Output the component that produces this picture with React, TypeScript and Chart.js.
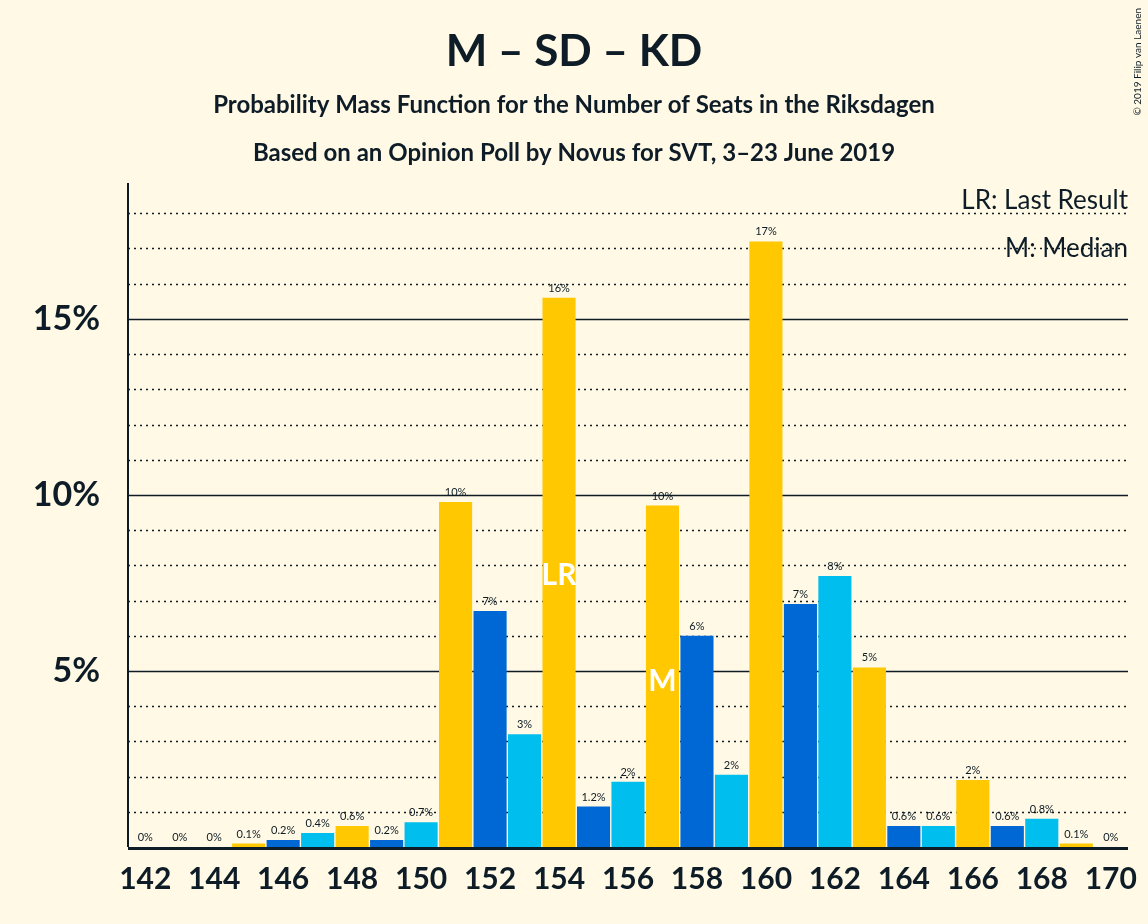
import React, { useEffect, useRef } from 'react';
import { Chart, registerables } from 'chart.js';

Chart.register(...registerables);

const seats = [142, 143, 144, 145, 146, 147, 148, 149, 150, 151, 152, 153, 154, 155, 156, 157, 158, 159, 160, 161, 162, 163, 164, 165, 166, 167, 168, 169, 170];
const probs = [0, 0, 0, 0.1, 0.2, 0.4, 0.6, 0.2, 0.7, 9.8, 6.7, 3.2, 15.6, 1.15, 1.85, 9.7, 6.0, 2.05, 17.2, 6.9, 7.7, 5.1, 0.6, 0.6, 1.9, 0.6, 0.8, 0.1, 0];
const valueLabels = ['0%', '0%', '0%', '0.1%', '0.2%', '0.4%', '0.6%', '0.2%', '0.7%', '10%', '7%', '3%', '16%', '1.2%', '2%', '10%', '6%', '2%', '17%', '7%', '8%', '5%', '0.6%', '0.6%', '2%', '0.6%', '0.8%', '0.1%', '0%'];
const palette = ['#FFC800', '#0068D4', '#00BEEE'];
const lastResult = 154;
const median = 157;

const ink = '#0d1c26';

const App: React.FC = () => {
  const canvasRef = useRef<HTMLCanvasElement | null>(null);

  useEffect(() => {
    if (!canvasRef.current) return;
    const ctx = canvasRef.current.getContext('2d');
    if (!ctx) return;

    const overlay = {
      id: 'overlay',
      beforeDraw(chart: any) {
        const c = chart.ctx;
        c.save();
        c.fillStyle = '#FFF9E5';
        c.fillRect(0, 0, chart.width, chart.height);
        c.restore();
      },
      beforeDatasetsDraw(chart: any) {
        const c = chart.ctx;
        const y = chart.scales.y;
        const { left, right } = chart.chartArea;
        c.save();
        for (let v = 1; v <= 18; v++) {
          const py = Math.round(y.getPixelForValue(v)) + 0.5;
          c.beginPath();
          if (v % 5 === 0) {
            c.setLineDash([]);
            c.lineWidth = 1.5;
          } else {
            c.setLineDash([2, 4]);
            c.lineWidth = 1.5;
          }
          c.strokeStyle = ink;
          c.moveTo(left, py);
          c.lineTo(right, py);
          c.stroke();
        }
        c.restore();
      },
      afterDatasetsDraw(chart: any) {
        const c = chart.ctx;
        const meta = chart.getDatasetMeta(0);
        const { left, top, bottom } = chart.chartArea;
        c.save();
        c.textAlign = 'center';
        c.textBaseline = 'bottom';
        c.fillStyle = ink;
        c.font = '11px Lato';
        meta.data.forEach((bar: any, i: number) => {
          c.fillText(valueLabels[i], bar.x, bar.y - 4);
        });
        c.fillStyle = '#ffffff';
        c.font = 'bold 30px Lato';
        c.textBaseline = 'middle';
        const lr = meta.data[seats.indexOf(lastResult)];
        c.fillText('LR', lr.x, 575);
        const md = meta.data[seats.indexOf(median)];
        c.fillText('M', md.x, 681);
        // axes
        c.strokeStyle = ink;
        c.lineWidth = 2;
        c.beginPath();
        c.moveTo(left, top);
        c.lineTo(left, bottom);
        c.stroke();
        c.fillStyle = ink;
        c.fillRect(left, bottom, chart.chartArea.right - left, 3);
        // titles
        c.textBaseline = 'alphabetic';
        c.font = 'bold 44px Lato';
        c.fillText('M – SD – KD', 574, 66);
        c.font = 'bold 24px Lato';
        c.fillText('Probability Mass Function for the Number of Seats in the Riksdagen', 574, 113);
        c.fillText('Based on an Opinion Poll by Novus for SVT, 3–23 June 2019', 574, 161);
        c.textAlign = 'right';
        c.font = '26px Lato';
        c.fillText('LR: Last Result', 1128, 209);
        c.fillText('M: Median', 1128, 257);
        c.font = '10px Lato';
        c.translate(1143, 8);
        c.rotate(-Math.PI / 2);
        c.textAlign = 'right';
        c.textBaseline = 'bottom';
        c.fillText('© 2019 Filip van Laenen', 0, 0);
        c.restore();
      },
    };

    const chart = new Chart(ctx, {
      type: 'bar',
      data: {
        labels: seats.map(String),
        datasets: [{
          data: probs,
          backgroundColor: seats.map((_, i) => palette[i % 3]),
          borderWidth: 0,
          categoryPercentage: 1,
          barPercentage: 0.96,
        }],
      },
      options: {
        responsive: false,
        animation: false,
        layout: { padding: { left: 8, right: 20, top: 183, bottom: 0 } },
        plugins: { legend: { display: false }, tooltip: { enabled: false } },
        scales: {
          x: {
            grid: { display: false },
            border: { display: false },
            afterFit: (s: any) => { s.height = 77; },
            ticks: {
              autoSkip: false,
              maxRotation: 0,
              color: ink,
              font: { family: 'Lato', size: 30, weight: 'bold' },
              padding: 6,
              callback: (_v: any, i: number) => (seats[i] % 2 === 0 ? String(seats[i]) : ''),
            },
          },
          y: {
            min: 0,
            max: 18.86,
            grid: { display: false },
            border: { display: false },
            afterFit: (s: any) => { s.width = 120; },
            afterBuildTicks: (s: any) => { s.ticks = [{ value: 5 }, { value: 10 }, { value: 15 }]; },
            ticks: {
              color: ink,
              font: { family: 'Lato', size: 34, weight: 'bold' },
              padding: 20,
              callback: (v: any) => v + '%',
            },
          },
        },
      },
      plugins: [overlay],
    });

    return () => chart.destroy();
  }, []);

  return <canvas ref={canvasRef} width={1148} height={924} style={{ display: 'block' }} />;
};

export default function AppRoot() {
  useEffect(() => {
    document.body.style.margin = '0';
  }, []);
  return <App />;
}
